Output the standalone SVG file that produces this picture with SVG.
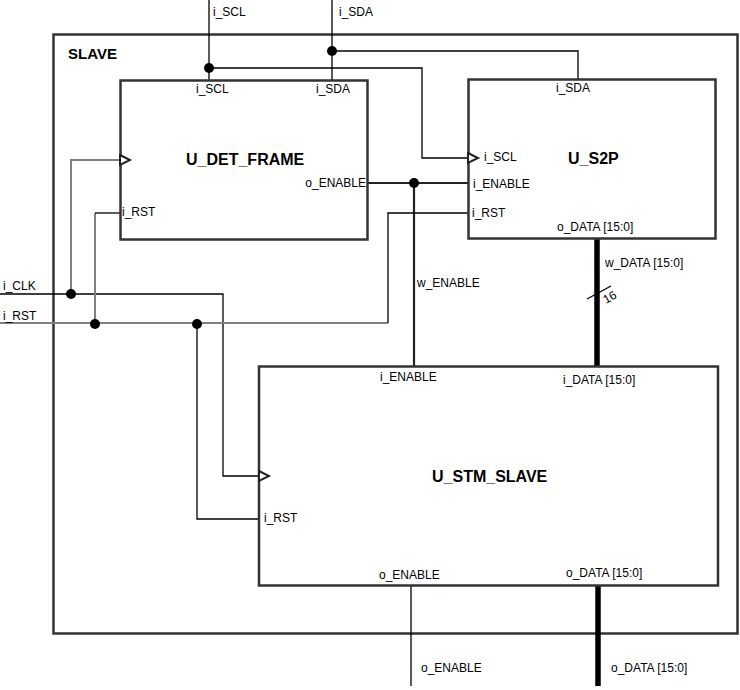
<svg xmlns="http://www.w3.org/2000/svg" width="740" height="690" viewBox="0 0 740 690">
<style>
text{font-family:"Liberation Sans",Arial,sans-serif;font-size:12px;fill:#000}
.b{font-weight:bold;font-size:16px}
.box{fill:none;stroke:#333;stroke-width:2.5}
.w{fill:none;stroke:#000;stroke-width:1.3}
.g{fill:none;stroke:#808080;stroke-width:2}
.t{fill:none;stroke:#222;stroke-width:2.2}
.bus{fill:none;stroke:#000;stroke-width:5.5}
.clk{fill:#fff;stroke:#222;stroke-width:2}
.dot{fill:#000}
</style>
<rect width="740" height="690" fill="#fff"/>
<g id="SLAVE">
<rect class="box" x="53.5" y="34.5" width="684" height="599"/>
<text class="b" x="68" y="59" style="font-size:15px">SLAVE</text>
</g>
<g id="connectors">
<!-- i_SCL -->
<polyline class="w" points="209,0 209,80"/>
<polyline class="w" points="209,68 422,68 422,158 468,158"/>
<!-- i_SDA -->
<polyline class="w" points="332,0 332,80"/>
<polyline class="w" points="332,51 578,51 578,79"/>
<!-- enable -->
<polyline class="t" points="368,183 468,183"/>
<polyline class="t" points="414,183 414,366"/>
<!-- i_CLK -->
<polyline class="w" points="0,294 223,294 223,476 259,476"/>
<polyline class="g" points="71,294 71,160 120,160"/>
<!-- i_RST -->
<polyline class="g" points="0,323 388,323"/>
<polyline class="w" points="388,323 388,213 468,213"/>
<polyline class="g" points="95,323 95,213"/>
<polyline class="w" points="95,213 120,213"/>
<polyline class="w" points="197,323 197,519 259,519"/>
<!-- data buses -->
<polyline class="bus" points="597,239 597,366"/>
<line class="w" x1="587" y1="299" x2="611" y2="286"/>
<polyline class="bus" points="598,586 598,686"/>
<polyline class="w" points="411,586 411,686"/>
<!-- dots -->
<circle class="dot" cx="209" cy="68" r="5"/>
<circle class="dot" cx="332" cy="51" r="5"/>
<circle class="dot" cx="414" cy="183" r="5"/>
<circle class="dot" cx="71" cy="294" r="5"/>
<circle class="dot" cx="95" cy="324" r="5"/>
<circle class="dot" cx="197" cy="324" r="5"/>
<text x="213" y="16">i_SCL</text>
<text x="339" y="16">i_SDA</text>
<text x="3" y="290">i_CLK</text>
<text x="3" y="320">i_RST</text>
<text x="417" y="287">w_ENABLE</text>
<text x="605" y="267">w_DATA [15:0]</text>
<text x="606" y="304" transform="rotate(-30 606 304)">16</text>
<text x="421" y="672">o_ENABLE</text>
<text x="611" y="672">o_DATA [15:0]</text>
</g>
<g id="U_DET_FRAME">
<rect class="box" x="120.5" y="80.5" width="247" height="159"/>
<polygon class="clk" points="120,155 130,160 120,165"/>
<text x="196" y="93">i_SCL</text>
<text x="316" y="93">i_SDA</text>
<text class="b" x="186" y="165">U_DET_FRAME</text>
<text x="366" y="187" text-anchor="end">o_ENABLE</text>
<text x="122" y="216">i_RST</text>
</g>
<g id="U_S2P">
<rect class="box" x="468.5" y="79.5" width="247" height="159"/>
<polygon class="clk" points="468,153 478,158 468,163"/>
<text x="556" y="92">i_SDA</text>
<text x="484" y="161">i_SCL</text>
<text class="b" x="568" y="164">U_S2P</text>
<text x="473" y="188">i_ENABLE</text>
<text x="472" y="217">i_RST</text>
<text x="557" y="231">o_DATA [15:0]</text>
</g>
<g id="U_STM_SLAVE">
<rect class="box" x="259" y="366.5" width="459" height="219"/>
<polygon class="clk" points="259,471 269,476 259,481"/>
<text x="380" y="381">i_ENABLE</text>
<text x="563" y="384">i_DATA [15:0]</text>
<text class="b" x="432" y="482">U_STM_SLAVE</text>
<text x="264" y="522">i_RST</text>
<text x="379" y="579">o_ENABLE</text>
<text x="566" y="577">o_DATA [15:0]</text>
</g>
</svg>
